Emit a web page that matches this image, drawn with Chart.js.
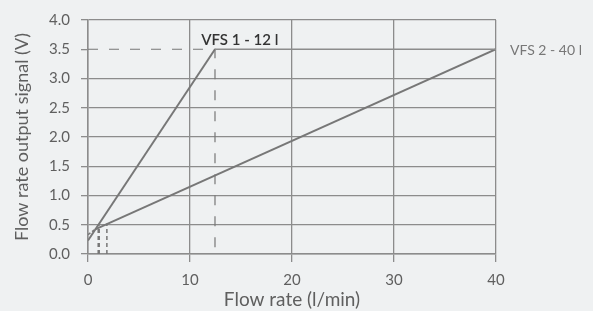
<!DOCTYPE html>
<html>
<head>
<meta charset="utf-8">
<script src="https://cdn.jsdelivr.net/npm/chart.js@4"></script>
<style>
  html, body { margin: 0; padding: 0; background: #eff1f2; }
  #wrap { width: 593px; height: 311px; }
</style>
</head>
<body>
<div id="wrap"><canvas id="myChart"></canvas></div>
<script>
// values
const vfs12X = [0, 12.45];
const vfs12Y = [0.23, 3.5];
const vfs40X = [0.7, 40];
const vfs40Y = [0.42, 3.5];
const vfs40ExtX = [0, 0.7];
const vfs40ExtY = [0.33, 0.42];
const guideTopX = [0, 12.45, 12.45];
const guideTopY = [3.5, 3.5, 0];
const guideLow1X = [1.05, 1.05];
const guideLow1Y = [0, 0.49];
const guideLow2X = [1.85, 1.85];
const guideLow2Y = [0, 0.52];
// the 3.5 grid line only runs right of the dashed guide
const grid35X = [12.45, 40];
const grid35Y = [3.5, 3.5];
const labels = ["VFS 1 - 12 l", "VFS 2 - 40 l"];
const xTicks = [0, 10, 20, 30, 40];
const yTicks = [0, 0.5, 1, 1.5, 2, 2.5, 3, 3.5, 4];

const gridColor = "#8c8c8c";
const lineColor = "#777777";
const textColor = "#5f5f5f";

function pts(xs, ys) {
    return xs.map((x, i) => ({ x: x, y: ys[i] }));
}

function lineSet(xs, ys, dash, width, color) {
    return {
        data: pts(xs, ys),
        showLine: true,
        borderColor: color || lineColor,
        borderWidth: width,
        borderDash: dash,
        pointRadius: 0,
        fill: false
    };
}

const labelPlugin = {
    id: "seriesLabels",
    afterDatasetsDraw(chart) {
        const ctx = chart.ctx;
        const xs = chart.scales.x;
        const ys = chart.scales.y;
        ctx.save();
        ctx.textBaseline = "alphabetic";
        ctx.textAlign = "left";
        ctx.fillStyle = "#333333";
        ctx.font = "600 15px Lato";
        ctx.fillText(labels[0], xs.getPixelForValue(11.1), ys.getPixelForValue(3.57));
        ctx.fillStyle = "#777777";
        ctx.font = "14px Lato";
        ctx.fillText(labels[1], xs.getPixelForValue(40) + 14, ys.getPixelForValue(3.4));
        ctx.restore();
    }
};

const ctx = document.getElementById("myChart").getContext("2d");
new Chart(ctx, {
    type: "scatter",
    data: {
        datasets: [
            lineSet(grid35X, grid35Y, [], 1.3, gridColor),
            lineSet(vfs12X, vfs12Y, [], 2),
            lineSet(vfs40X, vfs40Y, [], 2),
            lineSet(vfs40ExtX, vfs40ExtY, [3, 2], 1.5),
            lineSet(guideTopX, guideTopY, [10, 11], 1.2),
            lineSet(guideLow1X, guideLow1Y, [4, 3], 2.5),
            lineSet(guideLow2X, guideLow2Y, [4, 3], 1.5)
        ]
    },
    options: {
        responsive: true,
        maintainAspectRatio: false,
        animation: false,
        layout: {
            padding: { top: 15, right: 97, left: 0, bottom: 0 }
        },
        plugins: {
            legend: { display: false },
            tooltip: { enabled: false }
        },
        scales: {
            x: {
                type: "linear",
                min: 0,
                max: 40,
                afterBuildTicks: axis => { axis.ticks = xTicks.map(v => ({ value: v })); },
                afterFit: axis => { axis.height = 57; },
                grid: {
                    color: gridColor,
                    lineWidth: 1.3,
                    tickLength: 8
                },
                border: { color: gridColor, width: 1.5 },
                ticks: {
                    color: textColor,
                    font: { family: "Lato", size: 15 },
                    padding: 9
                },
                title: {
                    display: true,
                    text: "Flow rate (l/min)",
                    color: textColor,
                    font: { family: "Lato", size: 19 },
                    padding: { top: 0, bottom: 0 }
                }
            },
            y: {
                type: "linear",
                min: 0,
                max: 4,
                afterBuildTicks: axis => { axis.ticks = yTicks.map(v => ({ value: v })); },
                afterFit: axis => { axis.width = 88; },
                grid: {
                    color: c => (c.tick && c.tick.value === 3.5) ? "rgba(0,0,0,0)" : gridColor,
                    tickColor: gridColor,
                    lineWidth: 1.3,
                    tickLength: 7
                },
                border: { color: gridColor, width: 1.5 },
                ticks: {
                    color: textColor,
                    font: { family: "Lato", size: 15 },
                    padding: 11,
                    callback: v => v.toFixed(1)
                },
                title: {
                    display: true,
                    text: "Flow rate output signal (V)",
                    color: textColor,
                    font: { family: "Lato", size: 18 },
                    padding: { top: 11, bottom: 0 }
                }
            }
        }
    },
    plugins: [labelPlugin]
});
</script>
</body>
</html>
